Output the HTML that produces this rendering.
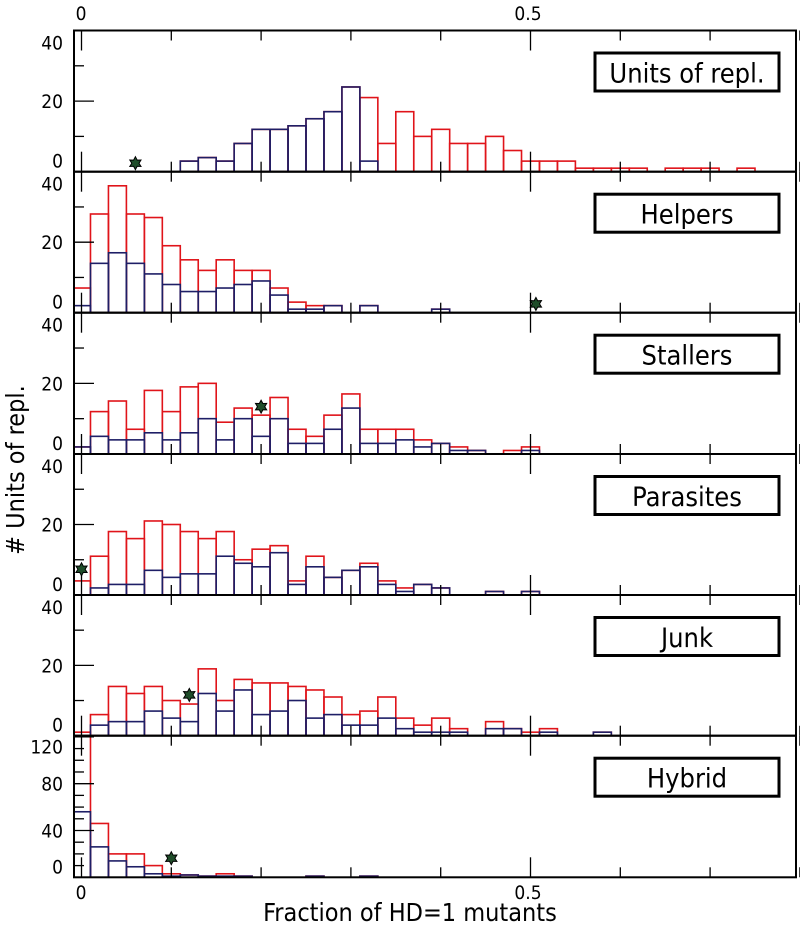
<!DOCTYPE html>
<html><head><meta charset="utf-8">
<style>
body{margin:0;background:#fff;}
svg{display:block;font-family:"DejaVu Sans Condensed","DejaVu Sans","Liberation Sans",sans-serif;}
</style></head>
<body>
<svg id="chart" width="800" height="930" viewBox="0 0 800 930" xmlns="http://www.w3.org/2000/svg">
<text x="24" y="470" font-size="25" text-anchor="middle" transform="rotate(-90 24 470)"># Units of repl.</text>
<text x="410" y="921" font-size="25" text-anchor="middle">Fraction of HD=1 mutants</text>
<text x="81" y="20" font-size="19" text-anchor="middle">0</text>
<text x="528" y="20" font-size="19" text-anchor="middle">0.5</text>
<text x="81" y="899" font-size="19" text-anchor="middle">0</text>
<text x="528" y="899" font-size="19" text-anchor="middle">0.5</text>
</svg>
<script>
const panelNames = ["Units of repl.","Helpers","Stallers","Parasites","Junk","Hybrid"];
const redUnits = [0,0,0,0,0,0,3,4,3,8,12,12,13,15,17,24,21,8,17,10,12,8,8,10,6,3,3,3,1,1,1,1,0,1,1,1,0,1];
const blueUnits = [0,0,0,0,0,0,3,4,3,8,12,12,13,15,17,24,3];
const redHelpers = [7,28,36,28,27,19,15,12,15,12,12,7,3,2,2,0,2,0,0,0,1];
const blueHelpers = [2,14,17,14,11,8,6,6,7,8,9,5,1,1,2,0,2,0,0,0,1];
const redStallers = [2,12,15,7,18,12,19,20,9,13,11,16,7,5,11,17,7,7,7,4,3,2,1,0,1,2];
const blueStallers = [2,5,4,4,6,4,6,10,4,10,5,10,3,3,7,13,3,3,4,2,3,1,1,0,0,1];
const redParasites = [4,11,18,16,21,20,18,16,18,10,13,14,4,11,5,7,9,4,2,3,2,0,0,1,0,1];
const blueParasites = [0,2,3,3,7,5,6,6,11,9,8,12,3,8,5,7,8,3,1,3,2,0,0,1,0,1];
const redJunk = [1,6,14,12,14,10,9,19,10,16,15,15,14,13,11,6,7,11,5,3,5,2,0,4,2,1,2,0,0,1];
const blueJunk = [0,3,4,4,7,5,4,12,7,13,6,7,10,5,6,3,3,5,2,1,1,1,0,2,2,0,1,0,0,1];
const redHybrid = [130,46,20,20,10,3,2,1,3,1,0,0,0,1,0,0,1];
const blueHybrid = [56,26,14,9,3,1,2,1,1,1,0,0,0,1,0,0,1];
const starX = [0.06,0.506,0.2,0.0,0.12,0.1];
const starY = [2.4,2.5,13.4,7.3,11.6,16.3];
const yMaxes = [40,40,40,40,40,121];
const yTickLabels = [["0","20","40"],["0","20","40"],["0","20","40"],["0","20","40"],["0","20","40"],["0","40","80","120"]];
const xTickValues = [0,0.1,0.2,0.3,0.4,0.5,0.6,0.7,0.8];
const binWidth = 0.02;

const redSeries=[redUnits,redHelpers,redStallers,redParasites,redJunk,redHybrid];
const blueSeries=[blueUnits,blueHelpers,blueStallers,blueParasites,blueJunk,blueHybrid];

const NS="http://www.w3.org/2000/svg";
const svg=document.getElementById('chart');
const L=74,R=796;
const tops=[30.5,171.7,312.7,454,595,735.7,877.3];
function xpx(v){return 81.5+v*898;}
function mk(tag,attrs){const e=document.createElementNS(NS,tag);for(const k in attrs)e.setAttribute(k,attrs[k]);return e;}

for(let p=0;p<6;p++){
  const top=tops[p],bot=tops[p+1],h=bot-top;
  const ymax=yMaxes[p];
  const ypx=v=>bot-Math.min(v,ymax)*h/ymax;
  const g=mk('g',{});
  
  
  svg.appendChild(g);
  const clipId='clip'+p;
  const cp=mk('clipPath',{id:clipId});cp.appendChild(mk('rect',{x:L,y:top,width:R-L,height:h}));g.appendChild(cp);
  const bars=mk('g',{'clip-path':'url(#'+clipId+')'});g.appendChild(bars);
  [[redSeries[p],'#e0141a'],[blueSeries[p],'#1e1e66']].forEach(([arr,col],si)=>{
    arr.forEach((v,k)=>{
      if(v<=0)return;
      const x0=xpx(k*binWidth-binWidth/2),x1=xpx(k*binWidth+binWidth/2);
      const r=mk('rect',{x:x0,y:ypx(v),width:x1-x0,height:bot-ypx(v),fill:'none',stroke:col,'stroke-width':1.6});
      
      
      bars.appendChild(r);
    });
  });
  xTickValues.forEach(t=>{
    const x=xpx(t);const len=(t===0||t===0.5)?20:10;
    g.appendChild(mk('line',{x1:x,x2:x,y1:top,y2:top+len,stroke:'#000','stroke-width':1.3}));
    g.appendChild(mk('line',{x1:x,x2:x,y1:bot,y2:bot-len,stroke:'#000','stroke-width':1.3}));
  });
  const step=10;
  for(let v=step;v<ymax;v+=step){
    const major=p===5?(v%40===0):(v%20===0);
    g.appendChild(mk('line',{x1:L,x2:L+(major?20:10),y1:ypx(v),y2:ypx(v),stroke:'#000','stroke-width':1.3}));
  }
  yTickLabels[p].forEach((lab,i)=>{
    const v=+lab;let y=ypx(v)+7;
    if(v===0)y=bot-4;
    if(p<5&&v===40)y=top+19;
    if(p===5&&v===120)y=top+18;
    const t=mk('text',{x:63,y:y,'font-size':19,'text-anchor':'end'});
    t.textContent=lab;
    
    
    g.appendChild(t);
  });
  g.appendChild(mk('rect',{x:L,y:top,width:R-L,height:h,fill:'none',stroke:'#000','stroke-width':2}));
  const lb=mk('g',{});
  
  
  lb.appendChild(mk('rect',{x:595,y:top+22.5,width:184,height:38,fill:'#fff',stroke:'#000','stroke-width':3}));
  const lt=mk('text',{x:687,y:top+52,'font-size':27,'text-anchor':'middle'});
  lt.textContent=panelNames[p];
  lb.appendChild(lt);g.appendChild(lb);
  const cx=xpx(starX[p]),cy=ypx(starY[p]);let pts=[];
  for(let i=0;i<12;i++){const a=Math.PI/6*i-Math.PI/2;const rr=i%2?3.6:6.5;pts.push((cx+rr*Math.cos(a)).toFixed(1)+','+(cy+rr*Math.sin(a)).toFixed(1));}
  const st=mk('polygon',{points:pts.join(' '),fill:'#1f4d2a',stroke:'#000','stroke-width':1});
  
  
  g.appendChild(st);
}
</script>
</body></html>
